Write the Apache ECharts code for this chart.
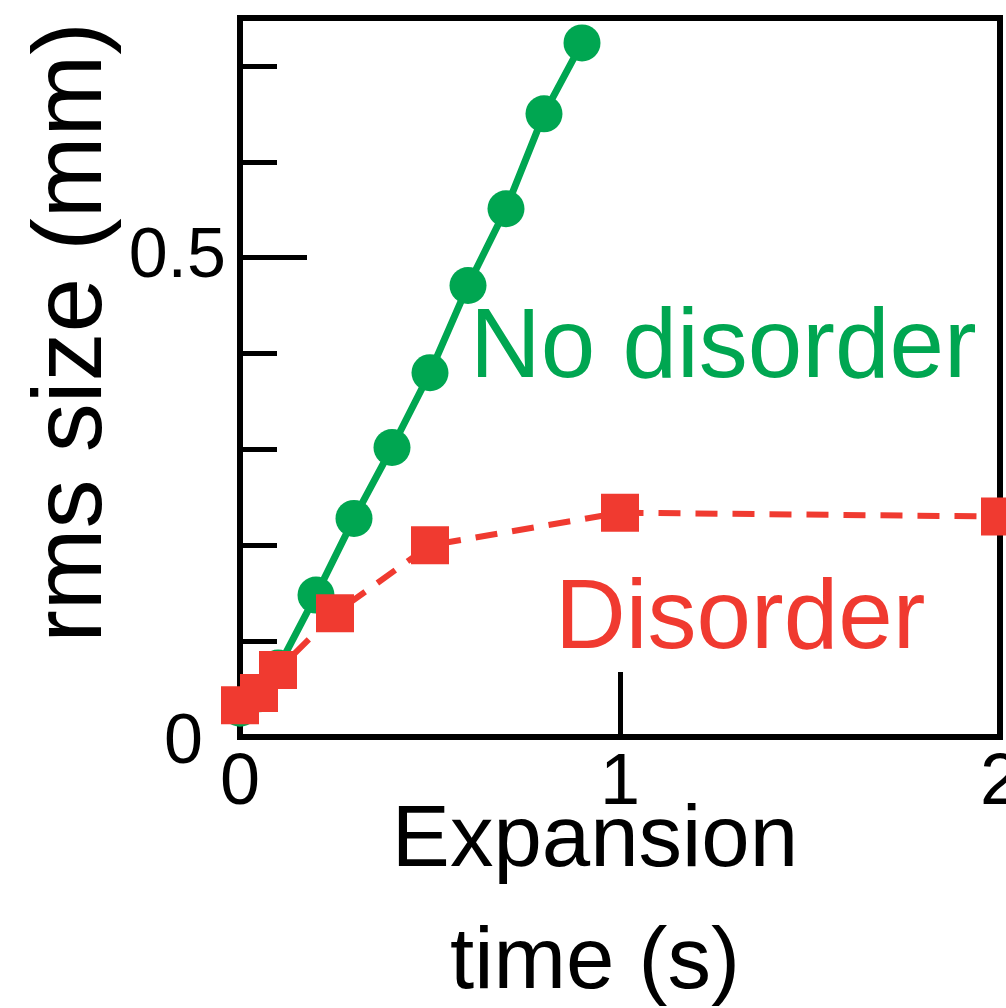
<!DOCTYPE html>
<html>
<head>
<meta charset="utf-8">
<script src="https://cdn.jsdelivr.net/npm/echarts/dist/echarts.min.js"></script>
<style>
html,body{margin:0;padding:0;background:#fff;}
#c{width:1006px;height:1008px;}
</style>
</head>
<body>
<div id="c"></div>
<script>
// Data
const greenX = [0, 0.05, 0.1, 0.2, 0.3, 0.4, 0.5, 0.6, 0.7, 0.8, 0.9];
const greenY = [0.03, 0.045, 0.072, 0.148, 0.228, 0.302, 0.380, 0.471, 0.551, 0.650, 0.724];
const redX = [0, 0.05, 0.1, 0.25, 0.5, 1, 2];
const redY = [0.033, 0.046, 0.070, 0.129, 0.200, 0.234, 0.230];
const xTickLabels = [0, 1, 2];
const yTickLabels = [0, 0.5];
const seriesNames = ['No disorder', 'Disorder'];

const GREEN = '#00A651';
const RED = '#F03A30';
const FONT = '"Liberation Sans", Arial, Helvetica, sans-serif';

const zip = (xs, ys) => xs.map((x, i) => [x, ys[i]]);

const chart = echarts.init(document.getElementById('c'), null, {renderer: 'canvas'});
chart.setOption({
  animation: false,
  backgroundColor: '#fff',
  grid: {
    left: 240, right: 6, top: 18, bottom: 271,
    outerBoundsMode: 'none', containLabel: false,
    show: true, borderColor: '#000', borderWidth: 6, backgroundColor: 'transparent'
  },
  xAxis: {
    type: 'value', min: 0, max: 2, interval: 1,
    axisLine: {show: false},
    splitLine: {show: false},
    axisTick: {show: true, inside: true, length: 65, lineStyle: {color: '#000', width: 5}},
    axisLabel: {
      color: '#000', fontSize: 72, fontFamily: FONT, margin: 11,
      formatter: v => xTickLabels.indexOf(v) >= 0 ? String(v) : ''
    },
    name: 'Expansion\ntime (s)',
    nameLocation: 'middle',
    nameMoveOverlap: false,
    nameGap: 44,
    nameTextStyle: {color: '#000', fontSize: 87, fontFamily: FONT, lineHeight: 122, padding: [0, 50, 0, 0]}
  },
  yAxis: [{
    type: 'value', min: 0, max: 0.75, interval: 0.1,
    axisLine: {show: false},
    splitLine: {show: false},
    axisTick: {show: true, inside: true, length: 37, lineStyle: {color: '#000', width: 5}},
    axisLabel: {
      color: '#000', fontSize: 70, fontFamily: FONT, margin: 14,
      formatter: v => {
        if (Math.abs(v - yTickLabels[0]) < 1e-9) return '{z|0}';
        if (Math.abs(v - yTickLabels[1]) < 1e-9) return '0.5';
        return '';
      },
      rich: {z: {fontSize: 70, fontFamily: FONT, color: '#000', padding: [14, 23, 0, 0]}}
    },
    name: 'rms size (mm)',
    nameLocation: 'middle',
    nameMoveOverlap: false,
    nameGap: 117,
    nameTextStyle: {color: '#000', fontSize: 98, fontFamily: FONT, padding: [0, 0, 0, 90]}
  }, {
    type: 'value', min: 0, max: 0.75, interval: 0.5, position: 'left',
    axisLine: {show: false},
    splitLine: {show: false},
    axisLabel: {show: false},
    axisTick: {show: true, inside: true, length: 67, lineStyle: {color: '#000', width: 5}}
  }],
  graphic: [
    {type: 'text', left: 470, top: 349 - 48, z: 10,
     style: {text: seriesNames[0], fill: GREEN, font: '98px ' + FONT}},
    {type: 'text', left: 555, top: 620 - 48, z: 10,
     style: {text: seriesNames[1], fill: RED, font: '98px ' + FONT}}
  ],
  series: [{
    name: seriesNames[0],
    type: 'line',
    data: zip(greenX, greenY),
    symbol: 'circle', symbolSize: 37,
    itemStyle: {color: GREEN},
    lineStyle: {color: GREEN, width: 7},
    z: 2
  }, {
    name: seriesNames[1],
    type: 'line',
    data: zip(redX, redY),
    symbol: 'rect', symbolSize: 38,
    itemStyle: {color: RED},
    lineStyle: {color: RED, width: 6, type: [22, 15]},
    z: 3
  }]
});
</script>
</body>
</html>
